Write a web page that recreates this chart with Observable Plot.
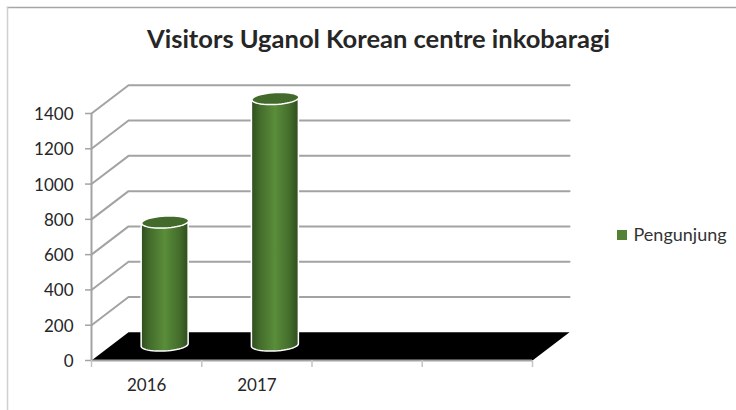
<!DOCTYPE html>
<html>
<head>
<meta charset="utf-8">
<script src="https://cdn.jsdelivr.net/npm/d3@7"></script>
<script src="https://cdn.jsdelivr.net/npm/@observablehq/plot@0.6"></script>
<style>
  html, body { margin: 0; padding: 0; background: #fff; }
  svg { display: block; }
</style>
</head>
<body>
<div id="chart"></div>
<script>
const years = ["2016", "2017"];
const visitors = [700, 1400];
const slots = [0, 1, 2, 3, 4];
const levels = [0, 200, 400, 600, 800, 1000, 1200, 1400];
const chartTitle = "Visitors Uganol Korean centre inkobaragi";
const seriesName = "Pengunjung";

// Oblique projection, in data units: how far the floor recedes
const depthX = 0.336;
const depthY = 160;
// Cylinder geometry, in data units
const radiusX = 0.213;
const radiusY = 34;
const tiltY = 7;
const baseY = 85;

const ff = "Lato, 'Open Sans', sans-serif";

// Closed ellipse outline around a cylinder end
const ellipse = (cx, cy) => d3.range(0, 49).map(i => {
  const a = i / 48 * 2 * Math.PI;
  return { x: cx + radiusX * Math.cos(a), y: cy + radiusY * Math.sin(a) + tiltY * Math.cos(a) };
});

const cylinders = years.map((year, i) => {
  const cx = i + 0.5 + depthX / 2;
  const top = baseY + visitors[i];
  // The side wall: lower rim of the base up to the lower rim of the top
  const side = d3.range(0, 25).map(k => {
    const a = k / 24 * Math.PI;
    const x = cx - radiusX * Math.cos(a);
    const rim = -radiusY * Math.sin(a) - tiltY * Math.cos(a);
    return { x, y1: baseY + rim, y2: top + rim };
  });
  return { year, side, cap: ellipse(cx, top) };
});

const floor = [
  { x: 0, y: 0 }, { x: 4, y: 0 },
  { x: 4 + depthX, y: depthY }, { x: depthX, y: depthY }, { x: 0, y: 0 }
];
const wallLines = levels.slice(1).flatMap(v => [
  { v, x: 0, y: v }, { v, x: depthX, y: v + depthY }, { v, x: 4 + depthX, y: v + depthY }
]);

const axisGrey = "#a3a3a3";

const chart = Plot.plot({
  width: 736,
  height: 410,
  margin: 0,
  style: { background: "#fff", fontFamily: ff },
  x: { type: "linear", domain: [0, 4], range: [91, 532], axis: null },
  y: { type: "linear", domain: [0, 1400], range: [360, 113], axis: null },
  marks: [
    // Outer chart frame: only the top and left edges show
    Plot.frame({ anchor: "top", stroke: "#a6a6a6", strokeWidth: 1.5, insetTop: 7, insetLeft: 7 }),
    Plot.frame({ anchor: "left", stroke: "#d0d0d0", strokeWidth: 1.5, insetLeft: 7, insetTop: 7 }),

    // Wall and back gridlines
    Plot.line(wallLines, { x: "x", y: "y", z: "v", stroke: axisGrey, strokeWidth: 2 }),
    // Floor
    Plot.line(floor, { x: "x", y: "y", fill: "#000", stroke: "none" }),

    // Axis lines and ticks
    Plot.ruleX([0], { y1: 0, y2: 1400, stroke: axisGrey, strokeWidth: 2 }),
    Plot.ruleY([0], { x1: 0, x2: 4, stroke: axisGrey, strokeWidth: 2 }),
    Plot.ruleY(levels, { x1: -0.054, x2: 0, stroke: axisGrey, strokeWidth: 1.5 }),
    Plot.text(levels, { x: 0, y: d => d, text: d => String(d), textAnchor: "end", dx: -18, dy: 1, fontSize: 17, fill: "#262626", fontFamily: ff }),
    Plot.ruleX(slots, { y1: 0, y2: -40, stroke: "#c4c4c4", strokeWidth: 1.5 }),
    Plot.text(years, { x: (d, i) => i + 0.5, y: 0, text: d => d, dy: 25, fontSize: 17, fill: "#262626", fontFamily: ff }),

    // Cylinders
    ...cylinders.flatMap(c => [
      Plot.areaY(c.side, { x: "x", y1: "y1", y2: "y2", fill: "url(#cylinderShade)", stroke: "#fff", strokeWidth: 1.5 }),
      Plot.line(c.cap, { x: "x", y: "y", fill: "#426a2a", stroke: "#fff", strokeWidth: 1.5 })
    ]),

    // Title and legend
    Plot.text([chartTitle], { frameAnchor: "top", dx: 10, dy: 29, lineAnchor: "top", fontSize: 25.5, fontWeight: 700, fill: "#262626", fontFamily: ff }),
    Plot.text([seriesName], { frameAnchor: "top-left", dx: 633, dy: 235, textAnchor: "start", lineAnchor: "middle", fontSize: 18, fill: "#333", fontFamily: ff })
  ]
});

// Horizontal shading that gives the cylinder walls their roundness, and the legend swatch
const svg = d3.select(chart);
const grad = svg.insert("defs", ":first-child").append("linearGradient")
  .attr("id", "cylinderShade").attr("x1", 0).attr("x2", 1).attr("y1", 0).attr("y2", 0);
[[0, "#2f4d1f"], [0.18, "#436c2b"], [0.5, "#5a8d3a"], [0.82, "#436c2b"], [1, "#2f4d1f"]]
  .forEach(([o, c]) => grad.append("stop").attr("offset", o).attr("stop-color", c));
svg.append("rect").attr("x", 617).attr("y", 230).attr("width", 10).attr("height", 10).attr("fill", "#548235");

document.getElementById("chart").append(chart);
</script>
</body>
</html>
